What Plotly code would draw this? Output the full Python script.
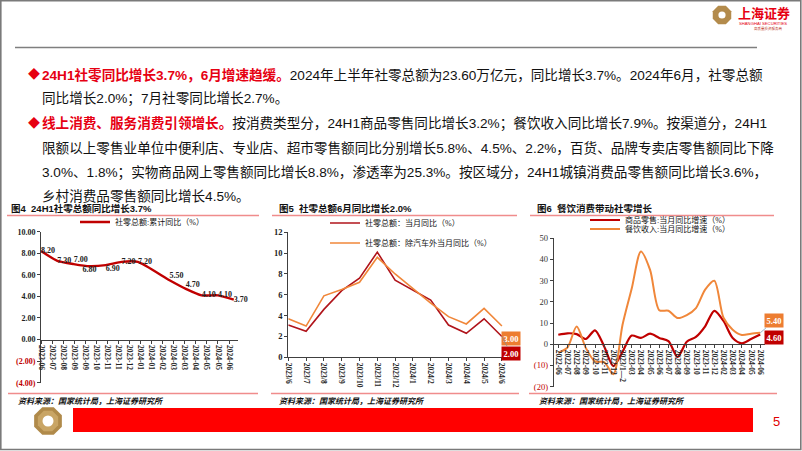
import math
import plotly.graph_objects as go

W, H = 802, 451
def X(px): return px / W
def Y(py): return 1 - py / H

# ---------------- data ----------------
# Chart 1 (图4): cumulative YoY
c1_dates = ["2023-06-30", "2023-07-31", "2023-08-31", "2023-09-30", "2023-10-31", "2023-11-30",
            "2023-12-31", "2024-02-29", "2024-03-31", "2024-04-30", "2024-05-31", "2024-06-30"]
c1_values = [8.2, 7.3, 7.0, 6.8, 6.9, 7.2, 7.2, 5.5, 4.7, 4.1, 4.1, 3.7]
c1_label_pos = ["middle right", "middle right", "top right", "bottom center", "bottom right",
                "middle right", "middle right", "top right", "top right", "middle right",
                "middle right", "middle right"]
c1_yticks = [-4, -2, 0, 2, 4, 6, 8, 10]

# Chart 2 (图5): monthly YoY
c2_months = ["2023/6", "2023/7", "2023/8", "2023/9", "2023/10", "2023/11", "2023/12",
             "2024/1", "2024/2", "2024/3", "2024/4", "2024/5", "2024/6"]
c2_total = [3.1, 2.5, 4.6, 6.4, 7.6, 10.1, 7.4, None, 5.5, 3.1, 2.3, 3.7, 2.0]
c2_exauto = [3.7, 3.0, 5.9, 6.5, 7.2, 9.6, 8.0, None, 5.2, 3.9, 3.2, 4.7, 3.0]
c2_yticks = [0, 2, 4, 6, 8, 10, 12]

# Chart 3 (图6): goods vs catering
c3_months = ["2022-06", "2022-07", "2022-08", "2022-09", "2022-10", "2022-11", "2022-12",
             "2023/1—2", "2023-03", "2023-04", "2023-05", "2023-06", "2023-07", "2023-08",
             "2023-09", "2023-10", "2023-11", "2023-12", "2024-02", "2024-03", "2024-04",
             "2024-05", "2024-06"]
c3_goods = [4.5, 5.2, 4.8, 2.5, 6.6, -1.0, -10.3, -3.5, 4.1, 3.0, 5.0, 3.0, 1.5, -6.0,
            1.2, 3.5, 8.5, 15.8, 11.0, 3.0, 0.5, 2.5, 4.6]
c3_catering = [-4.0, -1.5, 8.4, -1.7, -8.1, -8.4, -14.1, 9.2, 26.3, 43.8, 35.1, 16.1, 15.8,
               12.4, 13.8, 17.1, 25.8, 30.0, 12.5, 6.9, 4.4, 5.0, 5.4]
c3_yticks = [-20, -10, 0, 10, 20, 30, 40, 50]

DARKRED = "#C00000"
ORANGE = "#F0873A"
NEG = "#C00000"
SERIF = "Liberation Serif, Noto Sans CJK SC, serif"
SANS = "Liberation Sans, Noto Sans CJK SC, sans-serif"

def fmt1(v):
    return f"({abs(v):.2f})" if v < 0 else f"{v:.2f}"

def fmt3(v):
    return f"({abs(v)})" if v < 0 else f"{v}"

def colored(s, v):
    return f"<span style='color:{NEG}'>{s}</span>" if v < 0 else s

fig = go.Figure()

# ---------------- traces ----------------
fig.add_trace(go.Scatter(
    x=c1_dates, y=c1_values, mode="lines+text", name="社零总额:累计同比（%）",
    line=dict(color=DARKRED, width=2.4, shape="spline", smoothing=0.5),
    text=[f"{v:.2f}" for v in c1_values], textposition=c1_label_pos,
    textfont=dict(family=SERIF, size=8, color="#222", weight="bold"),
    xaxis="x", yaxis="y", legend="legend", cliponaxis=False))

fig.add_trace(go.Scatter(
    x=c2_months, y=c2_total, mode="lines", name="社零总额：当月同比（%）",
    line=dict(color="#B0141B", width=1.6), connectgaps=True,
    xaxis="x2", yaxis="y2", legend="legend2"))
fig.add_trace(go.Scatter(
    x=c2_months, y=c2_exauto, mode="lines", name="社零总额：除汽车外当月同比（%）",
    line=dict(color=ORANGE, width=1.6), connectgaps=True,
    xaxis="x2", yaxis="y2", legend="legend3"))

fig.add_trace(go.Scatter(
    x=c3_months, y=c3_goods, mode="lines", name="商品零售:当月同比增速（%）",
    line=dict(color=DARKRED, width=2.2, shape="spline", smoothing=0.8),
    xaxis="x3", yaxis="y3", legend="legend4"))
fig.add_trace(go.Scatter(
    x=c3_months, y=c3_catering, mode="lines", name="餐饮收入:当月同比增速（%）",
    line=dict(color=ORANGE, width=2.0, shape="spline", smoothing=0.8),
    xaxis="x3", yaxis="y3", legend="legend5"))

# ---------------- axes ----------------
axis_common = dict(showgrid=False, zeroline=False, showline=True, linecolor="#404040",
                   linewidth=1, ticks="outside", ticklen=3, tickcolor="#404040",
                   automargin=False)
tick_bold = dict(family=SERIF, size=7.5, color="#222", weight="bold")

# chart 1
c1_top, c1_bot = 231.7, 382.7
c1_zero = c1_bot - (0 - (-4)) / 14 * (c1_bot - c1_top)
fig.update_layout(
    xaxis=dict(**axis_common, type="date", domain=[X(41), X(238)],
               range=["2023-06-30", "2024-07-08"], anchor="free", position=Y(c1_zero),
               tick0="2023-06-30", dtick=21 * 86400000, tickformat="%Y-%m", tickangle=90,
               tickfont=tick_bold),
    yaxis=dict(**axis_common, domain=[Y(c1_bot), Y(c1_top)], range=[-4, 10], anchor="x",
               tickvals=c1_yticks, ticktext=[colored(fmt1(v), v) for v in c1_yticks],
               tickfont=dict(family=SERIF, size=8, color="#222", weight="bold")),
)

# chart 2
c2_top, c2_bot = 232.3, 357.3
fig.update_layout(
    xaxis2=dict(**axis_common, type="category", domain=[X(288.3), X(506.7)],
                range=[0, 12.27], anchor="y2", tickangle=90, tickfont=tick_bold),
    yaxis2=dict(**axis_common, domain=[Y(c2_bot), Y(c2_top)], range=[0, 12], anchor="x2",
                tickvals=c2_yticks, ticktext=[str(v) for v in c2_yticks],
                tickfont=dict(family=SERIF, size=8.5, color="#222", weight="bold")),
)

# chart 3
c3_top, c3_bot = 238.3, 386.7
c3_zero = c3_bot - 20 / 70 * (c3_bot - c3_top)
fig.update_layout(
    xaxis3=dict(**axis_common, type="category", domain=[X(553.7), X(764.8)],
                range=[-0.5, 22.5], anchor="free", position=Y(c3_zero), tickangle=90,
                tickfont=tick_bold),
    yaxis3=dict(**axis_common, domain=[Y(c3_bot), Y(c3_top)], range=[-20, 50], anchor="x3",
                tickvals=c3_yticks, ticktext=[colored(fmt3(v), v) for v in c3_yticks],
                tickfont=dict(family=SERIF, size=8.5, color="#333")),
)

# ---------------- legends ----------------
leg_font = dict(family=SERIF, size=8, color="#111")
def leg(xpx, ypx):
    return dict(x=X(xpx), y=Y(ypx), xanchor="left", yanchor="middle", font=leg_font,
                bgcolor="rgba(0,0,0,0)", borderwidth=0, itemwidth=30)
fig.update_layout(
    legend=leg(75, 222), legend2=leg(325, 223), legend3=leg(325, 243),
    legend4=leg(585, 220), legend5=leg(585, 229),
)

# ---------------- annotations ----------------
ann = []
def txt(xpx, ypx, s, size=14, color="#111", family=SANS, xanchor="left", **kw):
    ann.append(dict(x=X(xpx), y=Y(ypx), xref="paper", yref="paper", text=s, showarrow=False,
                    xanchor=xanchor, yanchor="middle", font=dict(size=size, color=color, family=family), **kw))

RED = "#E60012"
body = [
    (75, True, f"<b><span style='color:{RED}'>24H1社零同比增长3.7%，6月增速趋缓。</span></b>2024年上半年社零总额为23.60万亿元，同比增长3.7%。2024年6月，社零总额"),
    (99, False, "同比增长2.0%；7月社零同比增长2.7%。"),
    (124, True, f"<b><span style='color:{RED}'>线上消费、服务消费引领增长。</span></b>按消费类型分，24H1商品零售同比增长3.2%；餐饮收入同比增长7.9%。按渠道分，24H1"),
    (148, False, "限额以上零售业单位中便利店、专业店、超市零售额同比分别增长5.8%、4.5%、2.2%，百货、品牌专卖店零售额同比下降"),
    (172, False, "3.0%、1.8%；实物商品网上零售额同比增长8.8%，渗透率为25.3%。按区域分，24H1城镇消费品零售额同比增长3.6%，"),
    (196, False, "乡村消费品零售额同比增长4.5%。"),
]
for ypx, bullet, s in body:
    if bullet:
        txt(26, ypx, "◆", size=12, color=RED)
    txt(40, ypx, s, size=13.6)

# chart titles
txt(9, 208, "<b>图4  24H1社零总额同比增长3.7%</b>", size=9.5, color="#111")
txt(277, 208, "<b>图5  社零总额6月同比增长2.0%</b>", size=9.5, color="#111")
txt(535, 208, "<b>图6  餐饮消费带动社零增长</b>", size=9.5, color="#111")

# sources
for xpx in (16, 277, 537):
    txt(xpx, 401, "<b><i>资料来源：国家统计局，上海证券研究所</i></b>", size=8, color="#111")

# page number and logo text
txt(771, 421, "5", size=13, color="#E00000", family="Liberation Sans")
txt(736, 14, "<b>上海证券</b>", size=13, color="#E60012")
txt(737, 23.5, "SHANGHAI SECURITIES", size=4.2, color="#E60012", family="Liberation Sans")
txt(752, 28.5, "高质量投资服务商", size=3.5, color="#C0392B")

# end-value boxes
box_font = dict(family=SERIF, size=8.5, color="white")
ann.append(dict(x=c2_months[-1], y=c2_exauto[-1], xref="x2", yref="y2", text=f"<b>{c2_exauto[-1]:.2f}</b>",
                showarrow=True, arrowcolor="rgba(0,0,0,0)", ax=9, ay=12, bgcolor="#ED7D31",
                font=box_font, borderpad=1.5))
ann.append(dict(x=c2_months[-1], y=c2_total[-1], xref="x2", yref="y2", text=f"<b>{c2_total[-1]:.2f}</b>",
                showarrow=True, arrowcolor="#8c8c8c", arrowwidth=0.8, arrowhead=0, ax=9, ay=17,
                bgcolor=DARKRED, font=box_font, borderpad=1.5))
ann.append(dict(x=c3_months[-1], y=c3_catering[-1], xref="x3", yref="y3", text=f"<b>{c3_catering[-1]:.2f}</b>",
                showarrow=True, arrowcolor="#7f9fbf", arrowwidth=0.8, arrowhead=0, ax=14, ay=-12,
                bgcolor="#ED7D31", font=box_font, borderpad=1.5))
ann.append(dict(x=c3_months[-1], y=c3_goods[-1], xref="x3", yref="y3", text=f"<b>{c3_goods[-1]:.2f}</b>",
                showarrow=True, arrowcolor="rgba(0,0,0,0)", ax=14, ay=3,
                bgcolor=DARKRED, font=box_font, borderpad=1.5))

# ---------------- shapes ----------------
shapes = []
def line(x0, y0, x1, y1, color, width):
    shapes.append(dict(type="line", xref="paper", yref="paper", x0=X(x0), y0=Y(y0), x1=X(x1), y1=Y(y1),
                       line=dict(color=color, width=width)))
def rect(x0, y0, x1, y1, fill, lc=None, lw=0):
    shapes.append(dict(type="rect", xref="paper", yref="paper", x0=X(x0), y0=Y(y0), x1=X(x1), y1=Y(y1),
                       fillcolor=fill, line=dict(color=lc or fill, width=lw), layer="below"))
def octagon(cx, cy, r, color):
    pts = []
    for k in range(8):
        a = math.pi / 8 + k * math.pi / 4
        pts.append((X(cx + r * math.cos(a)), Y(cy + r * math.sin(a))))
    path = "M " + " L ".join(f"{px},{py}" for px, py in pts) + " Z"
    shapes.append(dict(type="path", xref="paper", yref="paper", path=path,
                       fillcolor=color, line=dict(color=color, width=0)))
def circle(cx, cy, r, color):
    shapes.append(dict(type="circle", xref="paper", yref="paper", x0=X(cx - r), x1=X(cx + r),
                       y0=Y(cy + r), y1=Y(cy - r), fillcolor=color, line=dict(color=color, width=0)))

# outer frame
shapes.append(dict(type="rect", xref="paper", yref="paper", x0=X(0.8), y0=Y(449.5), x1=X(800.8), y1=Y(0.8),
                   line=dict(color="#7a7a7a", width=1.6), fillcolor="rgba(0,0,0,0)"))
# header rule
line(15, 47.5, 757, 47.5, "#7f7f7f", 1.5)
# chart title rules & bottom rules
PINK = "#F08C8C"
for x0, x1 in ((7, 259), (272, 517), (530, 774)):
    line(x0, 215.5, x1, 215.5, PINK, 1.3)
for x0, x1 in ((8, 258), (271, 519), (529, 777)):
    line(x0, 393.5, x1, 393.5, PINK, 1.3)
# footer red bar
rect(73, 408, 753, 432, "#FF0000")
# logos
octagon(48, 421, 15, "#B08A4A")
octagon(48, 421, 11, "#C9A565")
circle(48, 421, 5.5, "#FFFFFF")
octagon(722, 15, 10, "#B38B4C")
circle(722, 15, 3.6, "#FFFFFF")

fig.update_layout(
    width=W, height=H, margin=dict(l=0, r=0, t=0, b=0), template="none",
    paper_bgcolor="white", plot_bgcolor="rgba(0,0,0,0)",
    annotations=ann, shapes=shapes, showlegend=True,
    font=dict(family=SANS),
)

fig.write_html("out.html")
